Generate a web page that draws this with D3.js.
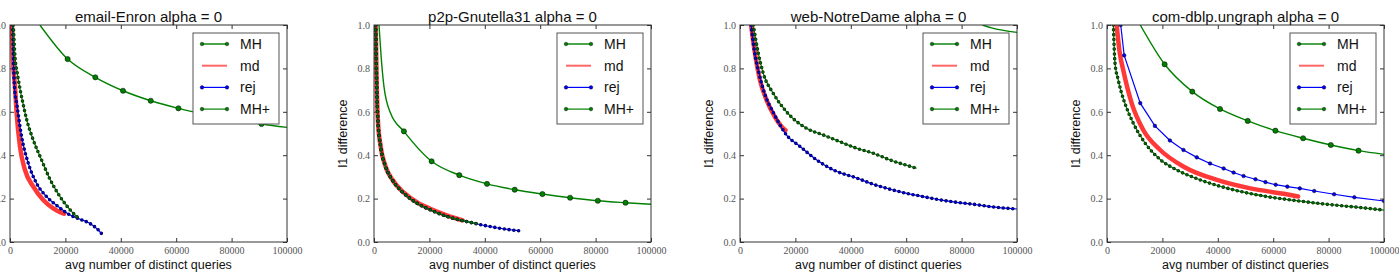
<!DOCTYPE html>
<meta charset="utf-8">
<style>
  body { margin: 0; background: #fff; }
  .tick text { font-family: "Liberation Serif", serif; font-size: 10px; fill: #555; }
  .tick line { stroke: #333; }
  .ttl { font-family: "Liberation Sans", Arial, sans-serif; font-size: 15px; fill: #111; }
  .lab { font-family: "Liberation Sans", Arial, sans-serif; font-size: 12.5px; fill: #111; }
  .leg { font-family: "Liberation Sans", Arial, sans-serif; font-size: 14px; fill: #111; }
</style>
<div id="chart"></div>
<script src="https://d3js.org/d3.v7.min.js"></script>
<script>

// tick values and labels
var xTicks = [0, 20000, 40000, 60000, 80000, 100000];
var yTicks = [0, 0.2, 0.4, 0.6, 0.8, 1.0];
var titles = ["email-Enron alpha = 0", "p2p-Gnutella31 alpha = 0",
              "web-NotreDame alpha = 0", "com-dblp.ungraph alpha = 0"];
var seriesNames = ["MH", "md", "rej", "MH+"];
// x positions where the MH runs were sampled (big markers)
var mhMarkX = [10800, 20800, 30800, 40800, 50800, 60800, 70800, 80800, 90800];

// email-Enron
var enronMH = [[10800,1.0],[20800,0.843],[30800,0.759],[40800,0.697],[50800,0.651],[60800,0.616],[70800,0.588],[80800,0.565],[90800,0.544],[100000,0.528]];
var enronMd = [[700,1.0],[970,0.87],[1800,0.716],[2400,0.593],[3600,0.44],[5400,0.332],[8400,0.255],[12000,0.194],[15600,0.155],[19500,0.13]];
var enronRej = [[1000,1.0],[1300,0.82],[1700,0.7],[2400,0.64],[4200,0.485],[6600,0.363],[9600,0.27],[13200,0.209],[17400,0.163],[21700,0.124],[25300,0.105],[28900,0.085],[31900,0.055],[33300,0.035]];
var enronMHp = [[1200,1.0],[1800,0.854],[2600,0.78],[3400,0.72],[4500,0.65],[6000,0.565],[8400,0.47],[11400,0.378],[14400,0.29],[18000,0.21],[21700,0.148],[24700,0.11]];

// p2p-Gnutella31
var gnuMH = [[1800,1.0],[2600,0.85],[3600,0.716],[6000,0.593],[10800,0.51],[20800,0.372],[30800,0.308],[40800,0.268],[50800,0.241],[60800,0.221],[70800,0.204],[80800,0.19],[90800,0.181],[100000,0.174]];
var gnuMd = [[600,1.0],[1000,0.716],[1400,0.562],[2400,0.44],[4200,0.347],[6600,0.288],[10800,0.227],[15600,0.182],[20500,0.152],[26500,0.122],[32000,0.1]];
var gnuRej = [[600,1.0],[1000,0.716],[1400,0.562],[2400,0.44],[4200,0.347],[6600,0.286],[10800,0.224],[15600,0.178],[20500,0.147],[26500,0.117],[32500,0.097],[37300,0.083],[43300,0.068],[48100,0.058],[52300,0.052]];
var gnuMHp = [[600,1.0],[1000,0.716],[1400,0.562],[2400,0.44],[4200,0.347],[6600,0.286],[10800,0.224],[15600,0.178],[20500,0.147],[26500,0.117],[32500,0.097],[37300,0.084]];

// web-NotreDame
var ndMH = [[87500,1.0],[90800,0.987],[100000,0.966]];
var ndMd = [[4000,1.0],[5400,0.87],[7200,0.747],[9600,0.654],[12600,0.577],[15600,0.524],[16400,0.515]];
var ndRej = [[4000,1.0],[5200,0.88],[6800,0.78],[9000,0.68],[12300,0.59],[16800,0.493],[21700,0.44],[27700,0.378],[33700,0.332],[42100,0.295],[48100,0.266],[54200,0.243],[60200,0.224],[66200,0.209],[72200,0.194],[78200,0.183],[84200,0.174],[90300,0.163],[100000,0.152]];
var ndMHp = [[4800,1.0],[6600,0.87],[8400,0.777],[12000,0.685],[16800,0.60],[24000,0.524],[30100,0.493],[36100,0.462],[42100,0.432],[48100,0.409],[54200,0.378],[63800,0.34]];

// com-dblp.ungraph
var dblpMH = [[12000,1.0],[20800,0.819],[30800,0.693],[40800,0.613],[50800,0.558],[60800,0.513],[70800,0.478],[80800,0.447],[90800,0.421],[100000,0.404]];
var dblpMd = [[3500,1.0],[4500,0.88],[5900,0.79],[8900,0.64],[13100,0.516],[19200,0.424],[27700,0.347],[39700,0.286],[51800,0.247],[63900,0.222],[69000,0.21]];
var dblpRej = [[4950,1.0],[6200,0.86],[12000,0.64],[17300,0.535],[22700,0.468],[27600,0.424],[32400,0.39],[37200,0.362],[42100,0.339],[45700,0.32],[49300,0.304],[53600,0.289],[57200,0.276],[60900,0.264],[65100,0.255],[69600,0.247],[74800,0.235],[82000,0.22],[89300,0.206],[100000,0.189]];
var dblpMHp = [[2300,1.0],[2900,0.823],[4000,0.75],[4950,0.70],[6900,0.624],[9500,0.547],[13800,0.455],[19200,0.38],[25200,0.332],[33700,0.286],[45800,0.24],[57800,0.209],[67500,0.192],[78400,0.175],[90500,0.16],[100000,0.147]];

// rejDense: the rej run is sampled so often that its markers merge into a band
var panels = [
  {title: titles[0], data: [enronMH, enronMd, enronRej, enronMHp], rejDense: true},
  {title: titles[1], data: [gnuMH, gnuMd, gnuRej, gnuMHp], rejDense: true},
  {title: titles[2], data: [ndMH, ndMd, ndRej, ndMHp], rejDense: true},
  {title: titles[3], data: [dblpMH, dblpMd, dblpRej, dblpMHp], rejDense: false}
];

var styles = {
  "MH":  {color: "#008000", dark: "#0a3a0a", width: 1.4},
  "md":  {color: "#ff0000", width: 4.5},
  "rej": {color: "#0000ff", dark: "#000050", width: 1.2},
  "MH+": {color: "#008000", dark: "#0a2a0a", width: 1.2}
};

var W = 1399, H = 272;
var lefts = [10, 374, 740, 1107],
    plotTop = 25, pw = 277, ph = 217;

var svg = d3.select("#chart").append("svg")
    .attr("width", W).attr("height", H);

var x = d3.scaleLinear().domain([0, 100000]).range([0, pw]);
var y = d3.scaleLinear().domain([0, 1]).range([ph, 0]);

var smooth = d3.line()
    .x(function(d){ return x(d[0]) })
    .y(function(d){ return y(d[1]) })
    .curve(d3.curveMonotoneX);
var straight = d3.line()
    .x(function(d){ return x(d[0]) })
    .y(function(d){ return y(d[1]) });

// dense dotted band: round-capped dashes give marker-like dots along the path
function dots(parent, series, s, gen) {
  parent.append("path").datum(series)
    .attr("fill", "none").attr("stroke", s.dark).attr("stroke-width", 3.6)
    .attr("stroke-linecap", "round").attr("stroke-dasharray", "0 4.8")
    .attr("d", gen);
  parent.append("path").datum(series)
    .attr("fill", "none").attr("stroke", s.color).attr("stroke-width", 2.2)
    .attr("stroke-opacity", 0.8)
    .attr("stroke-linecap", "round").attr("stroke-dasharray", "0 4.8")
    .attr("d", gen);
}

function circles(parent, pts, s, r) {
  parent.selectAll(null)
    .data(pts)
    .enter()
    .append("circle")
      .attr("cx", function(d){ return x(d[0]) })
      .attr("cy", function(d){ return y(d[1]) })
      .attr("r", r)
      .attr("fill", s.color)
      .attr("stroke", "#000")
      .attr("stroke-width", 0.5);
}

panels.forEach(function(p, i) {
  var g = svg.append("g")
      .attr("transform", "translate(" + lefts[i] + "," + plotTop + ")");

  g.append("clipPath").attr("id", "clip" + i)
    .append("rect").attr("width", pw).attr("height", ph);

  // axes, ticks pointing inward on all 4 sides
  g.append("g").attr("transform", "translate(0," + ph + ")")
    .call(d3.axisBottom(x).tickValues(xTicks).tickSize(-4).tickPadding(5).tickFormat(d3.format("d")))
    .call(function(a){ a.select(".domain").remove() });
  g.append("g")
    .call(d3.axisTop(x).tickValues(xTicks).tickSize(-4).tickFormat(""))
    .call(function(a){ a.select(".domain").remove() });
  g.append("g")
    .call(d3.axisLeft(y).tickValues(yTicks).tickSize(-4).tickPadding(4).tickFormat(d3.format(".1f")))
    .call(function(a){ a.select(".domain").remove() });
  g.append("g").attr("transform", "translate(" + pw + ",0)")
    .call(d3.axisRight(y).tickValues(yTicks).tickSize(-4).tickFormat(""))
    .call(function(a){ a.select(".domain").remove() });

  var plot = g.append("g").attr("clip-path", "url(#clip" + i + ")");

  // MH
  var sMH = styles["MH"];
  plot.append("path").datum(p.data[0])
    .attr("fill", "none").attr("stroke", sMH.color).attr("stroke-width", sMH.width)
    .attr("d", smooth);
  circles(plot, p.data[0].filter(function(d){ return mhMarkX.indexOf(d[0]) >= 0 && d[1] < 0.98 }), sMH, 2.6);

  // md
  var sMd = styles["md"];
  plot.append("path").datum(p.data[1])
    .attr("fill", "none").attr("stroke", sMd.color).attr("stroke-width", sMd.width)
    .attr("stroke-opacity", 0.78).attr("stroke-linecap", "round")
    .attr("d", smooth);

  // rej
  var sRej = styles["rej"];
  var rejGen = p.rejDense ? smooth : straight;
  plot.append("path").datum(p.data[2])
    .attr("fill", "none").attr("stroke", sRej.color).attr("stroke-width", sRej.width)
    .attr("d", rejGen);
  if (p.rejDense) dots(plot, p.data[2], sRej, rejGen);
  else circles(plot, p.data[2], sRej, 1.8);

  // MH+
  var sP = styles["MH+"];
  plot.append("path").datum(p.data[3])
    .attr("fill", "none").attr("stroke", sP.color).attr("stroke-width", sP.width)
    .attr("d", smooth);
  dots(plot, p.data[3], sP, smooth);

  g.append("rect")
    .attr("width", pw).attr("height", ph)
    .attr("fill", "none").attr("stroke", "#333").attr("stroke-width", 1);

  g.append("text").attr("class", "ttl")
    .attr("x", pw / 2).attr("y", -3)
    .attr("text-anchor", "middle").text(p.title);
  g.append("text").attr("class", "lab")
    .attr("x", pw / 2).attr("y", ph + 27)
    .attr("text-anchor", "middle").text("avg number of distinct queries");
  g.append("text").attr("class", "lab")
    .attr("transform", "translate(-27," + (ph / 2) + ") rotate(-90)")
    .attr("text-anchor", "middle").text("l1 difference");

  // legend
  var lw = 86, lh = 91;
  var leg = g.append("g").attr("transform", "translate(" + (pw - 8 - lw) + ",8)");
  leg.append("rect").attr("width", lw).attr("height", lh)
    .attr("fill", "#fff").attr("stroke", "#555").attr("stroke-width", 1);
  seriesNames.forEach(function(name, k) {
    var s = styles[name], ey = 11 + k * 21.7;
    leg.append("line")
      .attr("x1", 9).attr("x2", 34).attr("y1", ey).attr("y2", ey)
      .attr("stroke", s.color).attr("stroke-width", name === "md" ? 2 : s.width)
      .attr("stroke-opacity", name === "md" ? 0.6 : 1);
    if (name !== "md") {
      [9, 34].forEach(function(cx) {
        leg.append("circle").attr("cx", cx).attr("cy", ey).attr("r", 1.8)
          .attr("fill", s.color).attr("stroke", "#000").attr("stroke-width", 0.4);
      });
    }
    leg.append("text").attr("class", "leg")
      .attr("x", 47).attr("y", ey + 5).text(name);
  });
});

</script>
